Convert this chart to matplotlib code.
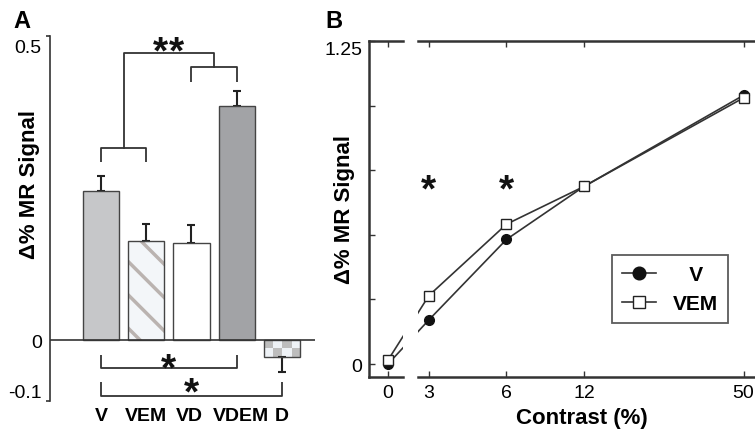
import numpy as np
import matplotlib
matplotlib.use('Agg')
import matplotlib.pyplot as plt
from matplotlib.colors import ListedColormap
from matplotlib.transforms import ScaledTranslation

plt.rcParams['font.family'] = ['Liberation Sans', 'DejaVu Sans']
plt.rcParams['hatch.linewidth'] = 2.5
plt.rcParams['mathtext.fontset'] = 'custom'
plt.rcParams['mathtext.bf'] = 'Liberation Sans:bold'

# panel A: mean % signal change per condition
conditions = ['V', 'VEM', 'VD', 'VDEM', 'D']
signal = [0.245, 0.163, 0.160, 0.385, -0.028]
sem = [0.025, 0.028, 0.029, 0.025, 0.025]

# panel B: contrast response
contrast = [3, 6, 12, 50]
contrast_labels = ['3', '6', '12', '50']
v_zero = 0.0
vem_zero = 0.015
v_signal = [0.171, 0.482, 0.687, 1.040]
vem_signal = [0.265, 0.541, 0.687, 1.030]
star_contrasts = [3, 6]

ink = '#333333'
W, H = 755.0, 435.0


def box(x0, y0, x1, y1):
    # pixel box -> figure fraction rect
    return [x0 / W, 1 - y1 / H, (x1 - x0) / W, (y1 - y0) / H]


def nudge(text, dx, dy):
    # shift a text by pixels
    text.set_transform(text.get_transform() +
                       ScaledTranslation(dx / 100, dy / 100, fig.dpi_scale_trans))


def bracket(ax, x0, x1, y, leg):
    ax.plot([x0, x0, x1, x1], [y + leg, y, y, y + leg], color=ink, lw=1.3,
            clip_on=False, solid_capstyle='butt')


def star(ax, x, y, dx=0, dy=-7):
    # mathtext asterisk, offsets in pixels
    ax.annotate(r'$\mathbf{*}$', (x, y), xytext=(dx * 0.72, dy * 0.72),
                textcoords='offset points', ha='center', va='center',
                fontsize=28, color='#111111', annotation_clip=False)


fig = plt.figure(figsize=(W / 100, H / 100), dpi=100)

# ---------------- panel A ----------------
axA = fig.add_axes(box(50, 37, 315, 402))
x = np.arange(len(conditions))
face = ['#c6c7c9', 'none', 'white', '#a2a3a6', 'none']

# hatched underlay for VEM
axA.bar(x[1], signal[1], width=0.8, color='#f3f6f9', edgecolor='#bab3b0',
        hatch='\\', linewidth=0, zorder=1)
bars = axA.bar(x, signal, width=0.8, color=face, edgecolor='#444444',
               linewidth=1.0, zorder=2)

# checkerboard fill for D
d = bars[4]
checker = np.indices((2, 4)).sum(axis=0) % 2
img = axA.imshow(checker, cmap=ListedColormap(['#bdbdbd', '#eef2f6']),
                 extent=[d.get_x(), d.get_x() + d.get_width(),
                         d.get_y() + d.get_height(), d.get_y()],
                 aspect='auto', interpolation='nearest', zorder=1)
img.set_clip_path(d)

lower = [0 if s > 0 else e for s, e in zip(signal, sem)]
upper = [e if s > 0 else 0 for s, e in zip(signal, sem)]
axA.errorbar(x, signal, yerr=[lower, upper], fmt='none', ecolor='#222222',
             elinewidth=1.5, capsize=3, capthick=1.5, zorder=1.5)

axA.axhline(0, color=ink, lw=1.2, zorder=4)
axA.set_xlim(-1.127, 4.73)
axA.set_ylim(-0.1, 0.5)

for s in ['top', 'right', 'bottom']:
    axA.spines[s].set_visible(False)
axA.spines['left'].set_color(ink)
axA.spines['left'].set_linewidth(1.2)

axA.set_yticks([-0.1, 0, 0.5], ['-0.1', '0', '0.5'])
axA.tick_params(axis='y', direction='out', length=3, width=1.2, color=ink,
                labelsize=14, pad=3)
axA.yaxis.get_major_ticks()[1].tick1line.set_visible(False)
ylabs = axA.get_yticklabels()
ylabs[0].set_va('bottom')
ylabs[2].set_va('top')
nudge(ylabs[2], 0, -3)

axA.set_xticks(x, conditions)
axA.tick_params(axis='x', length=0, labelsize=14, pad=4)
xlabs = axA.get_xticklabels()
for t in xlabs:
    t.set_fontweight('bold')
nudge(xlabs[2], -2, 0)
nudge(xlabs[3], 4, 0)

axA.set_ylabel('Δ% MR Signal', fontsize=16, fontweight='bold')
axA.yaxis.set_label_coords(-0.036, 0.595)

# significance brackets
bracket(axA, 0, 1, 0.316, -0.023)
bracket(axA, 2, 3, 0.449, -0.025)
axA.plot([0.5, 0.5, 2.5, 2.5], [0.316, 0.472, 0.472, 0.449], color=ink,
         lw=1.3, clip_on=False)
star(axA, 1.5, 0.486, -8)
star(axA, 1.5, 0.486, 8)
bracket(axA, 0, 3, -0.046, 0.021)
star(axA, 1.5, -0.0345)
bracket(axA, 0, 4, -0.092, 0.023)
star(axA, 2.0, -0.077, dy=-5)

# ---------------- panel B ----------------
axL = fig.add_axes(box(369, 42, 403, 378))
axR = fig.add_axes(box(418, 42, 755, 378))

axR.set_xscale('log')
ylim = (-0.0503, 1.25)
axL.set_xlim(-1.0, 15 / 19)
axL.set_ylim(*ylim)
axR.set_xlim(2.72, 55.4)
axR.set_ylim(*ylim)

line_kw = dict(color=ink, lw=1.2)
v_kw = dict(marker='o', ms=7, mfc='#111111', mec='#111111')
vem_kw = dict(marker='s', ms=6.5, mfc='white', mec='#222222', mew=1.0)


def bridge(y0, y3):
    p0 = axL.transData.transform((0, y0))
    p3 = axR.transData.transform((contrast[0], y3))
    a = axL.transData.inverted().transform(p3)
    b = axR.transData.inverted().transform(p0)
    axL.plot([0, a[0]], [y0, a[1]], scalex=False, scaley=False, **line_kw)
    axR.plot([b[0], contrast[0]], [b[1], y3], scalex=False, scaley=False,
             **line_kw)


bridge(v_zero, v_signal[0])
bridge(vem_zero, vem_signal[0])

axL.plot([0], [v_zero], ls='none', zorder=3, scalex=False, scaley=False, **v_kw)
axL.plot([0], [vem_zero], ls='none', zorder=3, scalex=False, scaley=False,
         **vem_kw)
axR.plot(contrast, v_signal, label='   V', zorder=3, scalex=False,
         scaley=False, **line_kw, **v_kw)
axR.plot(contrast, vem_signal, label='VEM', zorder=3, scalex=False,
         scaley=False, **line_kw, **vem_kw)

for xs in star_contrasts:
    star(axR, xs, 0.704)

for ax in (axL, axR):
    ax.spines['right'].set_visible(False)
    for s in ['top', 'bottom', 'left']:
        ax.spines[s].set_color(ink)
        ax.spines[s].set_linewidth(1.8)
axR.spines['left'].set_visible(False)

axL.set_xticks([0], ['0'])
axL.set_yticks(np.arange(0, 1.26, 0.25), ['0', '', '', '', '', '1.25'])
axL.tick_params(axis='x', direction='in', top=True, length=4, width=1.0,
                color=ink, labelsize=14, pad=5)
axL.tick_params(axis='y', direction='in', length=4, width=1.0, color=ink,
                labelsize=14, pad=5)
axL.get_yticklabels()[-1].set_va('top')

axR.set_xticks(contrast, contrast_labels)
axR.xaxis.set_minor_locator(matplotlib.ticker.NullLocator())
axR.tick_params(axis='x', direction='in', top=True, length=4, width=1.0,
                color=ink, labelsize=14, pad=5)
axR.tick_params(axis='y', left=False, labelleft=False)

axL.set_ylabel('Δ% MR Signal', fontsize=16, fontweight='bold')
axL.yaxis.set_label_coords(-0.4, 0.5)

leg = axR.legend(loc='upper left', bbox_to_anchor=(612 / W, 1 - 256 / H),
                 bbox_transform=fig.transFigure, frameon=True, fancybox=False,
                 edgecolor=ink, prop={'weight': 'bold', 'size': 15},
                 handlelength=1.6, borderpad=0.5, labelspacing=0.45,
                 handletextpad=0.8, borderaxespad=0, markerscale=1.3)
leg.get_frame().set_linewidth(1.3)

fig.text(582 / W, 1 - 419 / H, 'Contrast (%)', ha='center', va='center',
         fontsize=16, fontweight='bold')
fig.text(22 / W, 1 - 22 / H, 'A', ha='center', va='center', fontsize=17,
         fontweight='bold')
fig.text(334 / W, 1 - 22 / H, 'B', ha='center', va='center', fontsize=17,
         fontweight='bold')

fig.savefig('out.png', dpi=100)
